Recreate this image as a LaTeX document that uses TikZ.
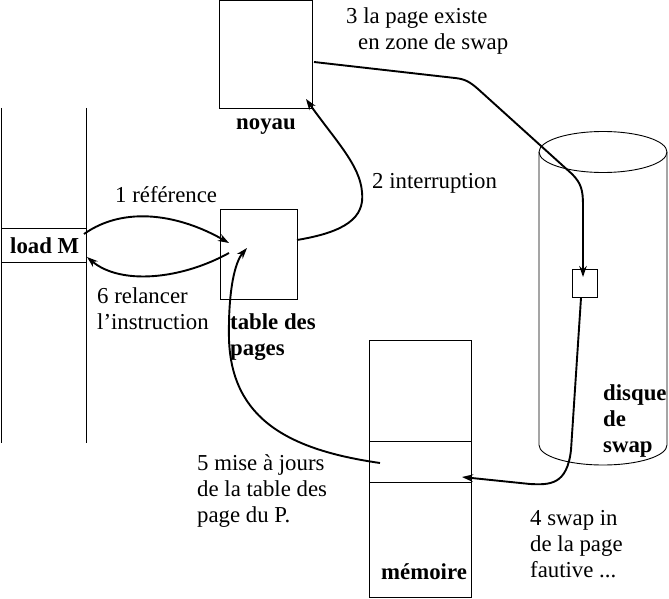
\documentclass[tikz,border=0pt]{standalone}
\usepackage{fontspec}
\setmainfont{Liberation Serif}
\usetikzlibrary{arrows.meta}
\begin{document}
\begin{tikzpicture}[x=1pt,y=-1pt,
  box/.style={draw,line width=0.9pt},
  conn/.style={line width=1.9pt,-{Stealth[length=11pt,width=7.5pt]}},
  lbl/.style={inner sep=0pt,anchor=base west,align=left,font=\fontsize{22.8}{26}\selectfont},
  blbl/.style={lbl,font=\fontsize{22.8}{26}\selectfont\bfseries}]
\useasboundingbox (0,0) rectangle (669,599);
% left column
\draw[line width=0.9pt] (1,108) -- (1,443);
\draw[line width=0.9pt] (86,108) -- (86,443);
\draw[box] (1,228) rectangle (86,262);
\node[blbl] (loadm) at (10,253) {load M};
\coordinate (lmR1) at (84,234);
\coordinate (lmR2) at (87,257);
% noyau
\draw[box] (219,0) rectangle (312,108);
\node[blbl] (noyaulbl) at (236,129) {noyau};
\coordinate (noyR) at (314,62);
\coordinate (noyB) at (306,99);
% table des pages
\draw[box] (220,209) rectangle (297,299);
\node[blbl] (tdp) at (230,355) {table des\\pages};
\coordinate (tdpA) at (229,243);
\coordinate (tdpB) at (229,253);
\coordinate (tdpR) at (297,240);
\coordinate (tdpC) at (247,248);
% memoire
\draw[box] (369,340) rectangle (471,597);
\draw[line width=0.9pt] (369,441) -- (471,441);
\draw[line width=0.9pt] (369,482) -- (471,482);
\node[blbl] (mem) at (381,579) {mémoire};
\coordinate (memIn) at (380,463);
\coordinate (memR) at (462,477);
% disque
\draw[line width=0.9pt] (603,152) ellipse [x radius=64pt, y radius=20.5pt];
\draw[line width=0.9pt] (539,152) -- (539,445) arc[start angle=180,end angle=360,x radius=64pt,y radius=20pt] -- (667,152);
\draw[box] (572,269) rectangle (597,297);
\coordinate (sqT) at (583,277);
\coordinate (sqB) at (581,298);
\node[blbl] (disque) at (603,452) {disque\\de\\swap};
% connectors
\draw[conn] (lmR1) .. controls (125,205) and (180,215) .. (tdpA);
\draw[conn] (tdpB) .. controls (180,280) and (120,285) .. (lmR2);
\draw[conn] (tdpR) .. controls (345,232) and (365,218) .. (362,192) .. controls (360,165) and (335,140) .. (noyB);
\draw[conn] (noyR) -- (455,78) .. controls (465,79) and (470,82) .. (478,89) -- (572,174) .. controls (581,183) and (583,190) .. (583,205) -- (sqT);
\draw[conn] (sqB) -- (571,450) .. controls (567,485) and (550,485) .. (530,484) -- (memR);
\draw[conn] (memIn) .. controls (290,450) and (232,420) .. (229,340) .. controls (228,290) and (235,262) .. (tdpC);
% labels
\node[lbl] (l1) at (115,202) {1 référence};
\node[lbl] (l2) at (372,188) {2 interruption};
\node[lbl] (l3) at (346,50) {3 la page existe\\\hspace*{12pt}en zone de swap};
\node[lbl] (l4) at (530,577) {4 swap in\\de la page\\fautive ...};
\node[lbl] (l5) at (197,522) {5 mise à jours\\de la table des\\page du P.};
\node[lbl] (l6) at (97,329) {6 relancer\\l’instruction};
\end{tikzpicture}
\end{document}
